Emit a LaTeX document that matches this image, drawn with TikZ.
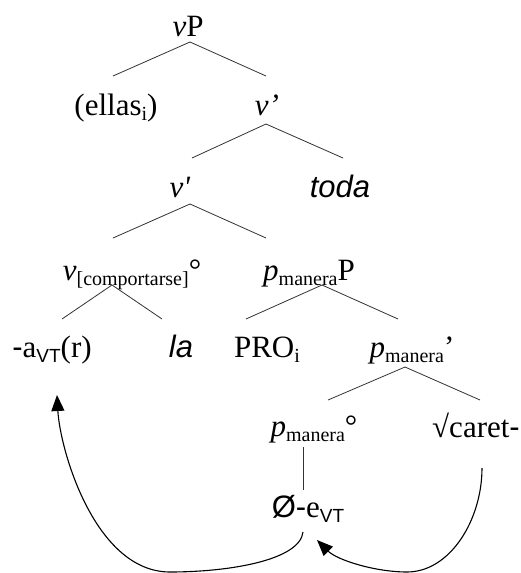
\documentclass[tikz,border=0pt]{standalone}
\usepackage{fontspec}
\setmainfont{Liberation Serif}
\newfontfamily\sansf{Liberation Sans}
\usetikzlibrary{arrows.meta}
\newcommand\lsub[1]{\raisebox{-5pt}{\fontsize{20}{20}\selectfont #1}}
\newcommand\ssub[1]{\raisebox{-5pt}{\sansf\fontsize{19}{19}\selectfont #1}}
\begin{document}
\begin{tikzpicture}[x=1pt,y=-1pt,
  lab/.style={inner sep=0pt, anchor=base, font=\fontsize{31}{36}\selectfont},
  br/.style={line width=0.8pt, draw=black!80},
  mv/.style={line width=1.1pt, -{Triangle[length=16pt,width=13pt]}}]
\useasboundingbox[fill=white] (0,0) rectangle (521,573);
% nodes
\node[lab] (vP)    at (188,36)  {\textit{v}P};
\node[lab] (ellas) at (116,115) {(ellas\lsub{i})};
\node[lab] (v1)    at (267,115) {\textit{v’}};
\node[lab] (v2)    at (180,197) {\textit{v\textquotesingle}};
\node[lab] (toda)  at (340,197) {{\sansf\itshape toda}};
\node[lab] (vc)    at (132,280) {\textit{v}\lsub{[comportarse]}°};
\node[lab] (pP)    at (309,280) {\textit{p}\lsub{manera}P};
\node[lab] (a)     at (52,357)  {{\sansf -}a\ssub{VT}(r)};
\node[lab] (la)    at (181,357) {{\sansf\itshape la}};
\node[lab] (PRO)   at (267,357) {PRO\lsub{i}};
\node[lab] (pb)    at (412,357) {\textit{p}\lsub{manera}’};
\node[lab] (p0)    at (314,436) {\textit{p}\lsub{manera}°};
\node[lab] (caret) at (476,437) {√caret{\sansf -}};
\node[lab] (oe)    at (308,517) {{\sansf Ø-}e\ssub{VT}};
% branches
\draw[br] ([shift={(2,6)}]vP.base) -- ([shift={(-3,-39)}]ellas.base);
\draw[br] ([shift={(2,6)}]vP.base) -- ([shift={(-1,-39)}]v1.base);
\draw[br] ([shift={(-1,9)}]v1.base) -- ([shift={(12,-39)}]v2.base);
\draw[br] ([shift={(-1,9)}]v1.base) -- ([shift={(3,-39)}]toda.base);
\draw[br] ([shift={(10,7)}]v2.base) -- ([shift={(-19,-42)}]vc.base);
\draw[br] ([shift={(10,7)}]v2.base) -- ([shift={(-43,-42)}]pP.base);
\draw[br] ([shift={(-20,5)}]vc.base) -- ([shift={(10,-38)}]a.base);
\draw[br] ([shift={(-20,5)}]vc.base) -- ([shift={(-19,-38)}]la.base);
\draw[br] ([shift={(13,5)}]pP.base) -- ([shift={(-21,-38)}]PRO.base);
\draw[br] ([shift={(13,5)}]pP.base) -- ([shift={(-14,-38)}]pb.base);
\draw[br] ([shift={(-7,10)}]pb.base) -- ([shift={(14,-36)}]p0.base);
\draw[br] ([shift={(-7,10)}]pb.base) -- ([shift={(4,-37)}]caret.base);
\draw[br] ([shift={(-11,11)}]p0.base) -- ([shift={(-5,-27)}]oe.base);
% movement arrows
\coordinate (botA) at (170,572);
\coordinate (botB) at (407,572);
\draw[mv] ([shift={(-5,15)}]oe.base) .. controls (300,560) and (230,572) .. (botA)
  .. controls (95,572) and (60,450) .. ([shift={(5,38)}]a.base);
\draw[mv] ([shift={(6,31)}]caret.base) .. controls (482,520) and (450,572) .. (botB)
  .. controls (375,572) and (337,560) .. ([shift={(9,23)}]oe.base);
\end{tikzpicture}
\end{document}
